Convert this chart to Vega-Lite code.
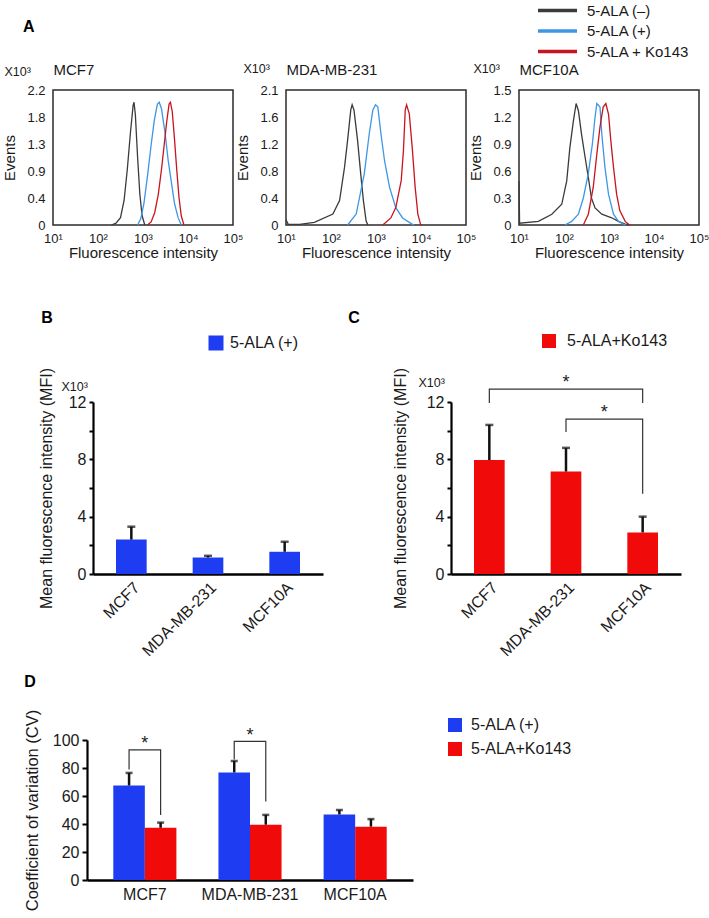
{
"$schema": "https://vega.github.io/schema/vega-lite/v6.json",
"background": "white",
"padding": {"left": 0, "top": 0, "right": 0, "bottom": 0},
"datasets": {
"hist": [
{"c":"MCF7","s":"5-ALA (–)","x":200,"y":0},{"c":"MCF7","s":"5-ALA (–)","x":251,"y":0.03},{"c":"MCF7","s":"5-ALA (–)","x":316,"y":0.12},{"c":"MCF7","s":"5-ALA (–)","x":380,"y":0.4},{"c":"MCF7","s":"5-ALA (–)","x":447,"y":0.9},{"c":"MCF7","s":"5-ALA (–)","x":525,"y":1.5},{"c":"MCF7","s":"5-ALA (–)","x":603,"y":1.95},{"c":"MCF7","s":"5-ALA (–)","x":631,"y":2.0},{"c":"MCF7","s":"5-ALA (–)","x":676,"y":1.8},{"c":"MCF7","s":"5-ALA (–)","x":759,"y":1.1},{"c":"MCF7","s":"5-ALA (–)","x":851,"y":0.5},{"c":"MCF7","s":"5-ALA (–)","x":955,"y":0.15},{"c":"MCF7","s":"5-ALA (–)","x":1096,"y":0},
{"c":"MCF7","s":"5-ALA (+)","x":759,"y":0},{"c":"MCF7","s":"5-ALA (+)","x":891,"y":0.1},{"c":"MCF7","s":"5-ALA (+)","x":1047,"y":0.35},{"c":"MCF7","s":"5-ALA (+)","x":1259,"y":0.8},{"c":"MCF7","s":"5-ALA (+)","x":1514,"y":1.3},{"c":"MCF7","s":"5-ALA (+)","x":1778,"y":1.7},{"c":"MCF7","s":"5-ALA (+)","x":2089,"y":1.97},{"c":"MCF7","s":"5-ALA (+)","x":2291,"y":2.0},{"c":"MCF7","s":"5-ALA (+)","x":2570,"y":1.9},{"c":"MCF7","s":"5-ALA (+)","x":3090,"y":1.5},{"c":"MCF7","s":"5-ALA (+)","x":3631,"y":1.05},{"c":"MCF7","s":"5-ALA (+)","x":4266,"y":0.7},{"c":"MCF7","s":"5-ALA (+)","x":5012,"y":0.35},{"c":"MCF7","s":"5-ALA (+)","x":6026,"y":0.12},{"c":"MCF7","s":"5-ALA (+)","x":7079,"y":0},
{"c":"MCF7","s":"5-ALA + Ko143","x":1259,"y":0},{"c":"MCF7","s":"5-ALA + Ko143","x":1514,"y":0.05},{"c":"MCF7","s":"5-ALA + Ko143","x":1820,"y":0.2},{"c":"MCF7","s":"5-ALA + Ko143","x":2188,"y":0.5},{"c":"MCF7","s":"5-ALA + Ko143","x":2570,"y":0.9},{"c":"MCF7","s":"5-ALA + Ko143","x":2951,"y":1.3},{"c":"MCF7","s":"5-ALA + Ko143","x":3388,"y":1.7},{"c":"MCF7","s":"5-ALA + Ko143","x":3802,"y":1.97},{"c":"MCF7","s":"5-ALA + Ko143","x":4074,"y":2.0},{"c":"MCF7","s":"5-ALA + Ko143","x":4467,"y":1.85},{"c":"MCF7","s":"5-ALA + Ko143","x":5012,"y":1.4},{"c":"MCF7","s":"5-ALA + Ko143","x":5623,"y":0.9},{"c":"MCF7","s":"5-ALA + Ko143","x":6310,"y":0.45},{"c":"MCF7","s":"5-ALA + Ko143","x":7079,"y":0.15},{"c":"MCF7","s":"5-ALA + Ko143","x":8128,"y":0},
{"c":"MDA","s":"5-ALA (–)","x":10,"y":0.08},{"c":"MDA","s":"5-ALA (–)","x":11.2,"y":0.01},{"c":"MDA","s":"5-ALA (–)","x":20,"y":0.01},{"c":"MDA","s":"5-ALA (–)","x":42.7,"y":0.04},{"c":"MDA","s":"5-ALA (–)","x":110,"y":0.17},{"c":"MDA","s":"5-ALA (–)","x":155,"y":0.38},{"c":"MDA","s":"5-ALA (–)","x":200,"y":0.9},{"c":"MDA","s":"5-ALA (–)","x":234,"y":1.32},{"c":"MDA","s":"5-ALA (–)","x":275,"y":1.79},{"c":"MDA","s":"5-ALA (–)","x":295,"y":1.87},{"c":"MDA","s":"5-ALA (–)","x":324,"y":1.79},{"c":"MDA","s":"5-ALA (–)","x":389,"y":1.32},{"c":"MDA","s":"5-ALA (–)","x":457,"y":0.8},{"c":"MDA","s":"5-ALA (–)","x":525,"y":0.38},{"c":"MDA","s":"5-ALA (–)","x":603,"y":0.06},{"c":"MDA","s":"5-ALA (–)","x":661,"y":0},
{"c":"MDA","s":"5-ALA (+)","x":234,"y":0},{"c":"MDA","s":"5-ALA (+)","x":363,"y":0.17},{"c":"MDA","s":"5-ALA (+)","x":550,"y":0.8},{"c":"MDA","s":"5-ALA (+)","x":708,"y":1.42},{"c":"MDA","s":"5-ALA (+)","x":851,"y":1.79},{"c":"MDA","s":"5-ALA (+)","x":977,"y":1.87},{"c":"MDA","s":"5-ALA (+)","x":1096,"y":1.84},{"c":"MDA","s":"5-ALA (+)","x":1288,"y":1.42},{"c":"MDA","s":"5-ALA (+)","x":1549,"y":1.0},{"c":"MDA","s":"5-ALA (+)","x":1995,"y":0.59},{"c":"MDA","s":"5-ALA (+)","x":2754,"y":0.27},{"c":"MDA","s":"5-ALA (+)","x":3890,"y":0.11},{"c":"MDA","s":"5-ALA (+)","x":6457,"y":0.01},{"c":"MDA","s":"5-ALA (+)","x":7000,"y":0},
{"c":"MDA","s":"5-ALA + Ko143","x":1413,"y":0},{"c":"MDA","s":"5-ALA + Ko143","x":2138,"y":0.11},{"c":"MDA","s":"5-ALA + Ko143","x":2754,"y":0.27},{"c":"MDA","s":"5-ALA + Ko143","x":3631,"y":0.69},{"c":"MDA","s":"5-ALA + Ko143","x":4074,"y":1.16},{"c":"MDA","s":"5-ALA + Ko143","x":4467,"y":1.79},{"c":"MDA","s":"5-ALA + Ko143","x":4786,"y":1.87},{"c":"MDA","s":"5-ALA + Ko143","x":5495,"y":1.73},{"c":"MDA","s":"5-ALA + Ko143","x":6457,"y":1.16},{"c":"MDA","s":"5-ALA + Ko143","x":7413,"y":0.59},{"c":"MDA","s":"5-ALA + Ko143","x":8511,"y":0.17},{"c":"MDA","s":"5-ALA + Ko143","x":9772,"y":0.01},{"c":"MDA","s":"5-ALA + Ko143","x":10500,"y":0},
{"c":"MCF10A","s":"5-ALA (–)","x":10,"y":0.49},{"c":"MCF10A","s":"5-ALA (–)","x":10.3,"y":0.02},{"c":"MCF10A","s":"5-ALA (–)","x":26.9,"y":0.04},{"c":"MCF10A","s":"5-ALA (–)","x":53.7,"y":0.12},{"c":"MCF10A","s":"5-ALA (–)","x":89.1,"y":0.23},{"c":"MCF10A","s":"5-ALA (–)","x":115,"y":0.49},{"c":"MCF10A","s":"5-ALA (–)","x":135,"y":0.86},{"c":"MCF10A","s":"5-ALA (–)","x":162,"y":1.16},{"c":"MCF10A","s":"5-ALA (–)","x":186,"y":1.35},{"c":"MCF10A","s":"5-ALA (–)","x":209,"y":1.27},{"c":"MCF10A","s":"5-ALA (–)","x":245,"y":1.01},{"c":"MCF10A","s":"5-ALA (–)","x":295,"y":0.75},{"c":"MCF10A","s":"5-ALA (–)","x":347,"y":0.53},{"c":"MCF10A","s":"5-ALA (–)","x":407,"y":0.3},{"c":"MCF10A","s":"5-ALA (–)","x":490,"y":0.19},{"c":"MCF10A","s":"5-ALA (–)","x":692,"y":0.12},{"c":"MCF10A","s":"5-ALA (–)","x":1148,"y":0.08},{"c":"MCF10A","s":"5-ALA (–)","x":1622,"y":0.04},{"c":"MCF10A","s":"5-ALA (–)","x":2291,"y":0.01},{"c":"MCF10A","s":"5-ALA (–)","x":2800,"y":0},
{"c":"MCF10A","s":"5-ALA (+)","x":105,"y":0},{"c":"MCF10A","s":"5-ALA (+)","x":148,"y":0.04},{"c":"MCF10A","s":"5-ALA (+)","x":209,"y":0.12},{"c":"MCF10A","s":"5-ALA (+)","x":269,"y":0.3},{"c":"MCF10A","s":"5-ALA (+)","x":347,"y":0.57},{"c":"MCF10A","s":"5-ALA (+)","x":427,"y":0.9},{"c":"MCF10A","s":"5-ALA (+)","x":490,"y":1.2},{"c":"MCF10A","s":"5-ALA (+)","x":537,"y":1.35},{"c":"MCF10A","s":"5-ALA (+)","x":631,"y":1.31},{"c":"MCF10A","s":"5-ALA (+)","x":692,"y":1.01},{"c":"MCF10A","s":"5-ALA (+)","x":813,"y":0.64},{"c":"MCF10A","s":"5-ALA (+)","x":977,"y":0.34},{"c":"MCF10A","s":"5-ALA (+)","x":1259,"y":0.12},{"c":"MCF10A","s":"5-ALA (+)","x":1622,"y":0.04},{"c":"MCF10A","s":"5-ALA (+)","x":2089,"y":0.01},{"c":"MCF10A","s":"5-ALA (+)","x":2400,"y":0},
{"c":"MCF10A","s":"5-ALA + Ko143","x":269,"y":0},{"c":"MCF10A","s":"5-ALA + Ko143","x":347,"y":0.12},{"c":"MCF10A","s":"5-ALA + Ko143","x":447,"y":0.42},{"c":"MCF10A","s":"5-ALA + Ko143","x":537,"y":0.79},{"c":"MCF10A","s":"5-ALA + Ko143","x":631,"y":1.09},{"c":"MCF10A","s":"5-ALA + Ko143","x":741,"y":1.31},{"c":"MCF10A","s":"5-ALA + Ko143","x":851,"y":1.35},{"c":"MCF10A","s":"5-ALA + Ko143","x":977,"y":1.23},{"c":"MCF10A","s":"5-ALA + Ko143","x":1096,"y":0.94},{"c":"MCF10A","s":"5-ALA + Ko143","x":1259,"y":0.64},{"c":"MCF10A","s":"5-ALA + Ko143","x":1479,"y":0.34},{"c":"MCF10A","s":"5-ALA + Ko143","x":1738,"y":0.16},{"c":"MCF10A","s":"5-ALA + Ko143","x":2291,"y":0.04},{"c":"MCF10A","s":"5-ALA + Ko143","x":2692,"y":0.01},{"c":"MCF10A","s":"5-ALA + Ko143","x":3000,"y":0}
]
},
"vconcat": [
{
"hconcat": [
{
"title": {"text": "A", "anchor": "start", "frame": "bounds", "dx": 22, "offset": 27, "fontSize": 16},
"width": 180, "height": 135,
"view": {"stroke": "#2b2b2b", "strokeWidth": 1.5},
"data": {"name": "hist"},
"transform": [{"filter": "datum.c === 'MCF7'"}],
"layer": [
{"mark": {"type": "line", "strokeWidth": 1.3},
"encoding": {
"x": {"field": "x", "type": "quantitative", "scale": {"type": "log", "domain": [10, 100000]}, "axis": {"title": "Fluorescence intensity", "values": [10, 100, 1000, 10000, 100000], "labelExpr": "'10' + ['⁰','¹','²','³','⁴','⁵'][round(log(datum.value)/LN10)]", "ticks": false, "domain": false, "labelFontSize": 13, "titleFontSize": 15, "labelPadding": 7, "titlePadding": 0, "labelFlush": false}},
"y": {"field": "y", "type": "quantitative", "scale": {"domain": [0, 2.2], "nice": false}, "axis": {"title": "Events", "values": [0, 0.44, 0.88, 1.32, 1.76, 2.2], "labelExpr": "['0','0.4','0.9','1.3','1.8','2.2'][round(datum.value/0.44)]", "ticks": false, "domain": false, "labelFontSize": 13, "titleFontSize": 15, "labelPadding": 8, "titlePadding": 9}},
"color": {"field": "s", "type": "nominal", "scale": {"domain": ["5-ALA (–)", "5-ALA (+)", "5-ALA + Ko143"], "range": ["#3b3b3b", "#3d96e6", "#c8141e"]}, "legend": null}
}},
{"mark": {"type": "line", "opacity": 0},
"encoding": {
"x": {"field": "x", "type": "quantitative", "axis": {"orient": "top", "title": "MCF7", "labels": false, "ticks": false, "domain": false, "titleAnchor": "start", "titleAlign": "left", "titleX": 0, "titleY": -16, "titleBaseline": "alphabetic", "titleFontSize": 15}},
"y": {"field": "y", "type": "quantitative", "axis": {"orient": "left", "title": "X10³", "labels": false, "ticks": false, "domain": false, "titleAngle": 0, "titleX": -49, "titleY": -15, "titleAlign": "left", "titleBaseline": "alphabetic", "titleFontSize": 12.5}},
"detail": {"field": "s"}
}},
{"mark": {"type": "line", "opacity": 0},
"encoding": {
"x": {"field": "x", "type": "quantitative", "axis": null},
"y": {"field": "y", "type": "quantitative", "axis": {"orient": "left", "title": ".", "titleOpacity": 0, "labels": false, "ticks": false, "domain": false, "titleAngle": 0, "titleX": -52, "titleY": 20, "titleAlign": "left", "titleFontSize": 10}},
"detail": {"field": "s"}
}}
],
"resolve": {"axis": {"x": "independent", "y": "independent"}}
},
{
"width": 180, "height": 135,
"view": {"stroke": "#2b2b2b", "strokeWidth": 1.5},
"data": {"name": "hist"},
"transform": [{"filter": "datum.c === 'MDA'"}],
"layer": [
{"mark": {"type": "line", "strokeWidth": 1.3},
"encoding": {
"x": {"field": "x", "type": "quantitative", "scale": {"type": "log", "domain": [10, 100000]}, "axis": {"title": "Fluorescence intensity", "values": [10, 100, 1000, 10000, 100000], "labelExpr": "'10' + ['⁰','¹','²','³','⁴','⁵'][round(log(datum.value)/LN10)]", "ticks": false, "domain": false, "labelFontSize": 13, "titleFontSize": 15, "labelPadding": 7, "titlePadding": 0, "labelFlush": false}},
"y": {"field": "y", "type": "quantitative", "scale": {"domain": [0, 2.1], "nice": false}, "axis": {"title": "Events", "values": [0, 0.42, 0.84, 1.26, 1.68, 2.1], "labelExpr": "['0','0.4','0.8','1.2','1.6','2.1'][round(datum.value/0.42)]", "ticks": false, "domain": false, "labelFontSize": 13, "titleFontSize": 15, "labelPadding": 8, "titlePadding": 9}},
"color": {"field": "s", "type": "nominal", "scale": {"domain": ["5-ALA (–)", "5-ALA (+)", "5-ALA + Ko143"], "range": ["#3b3b3b", "#3d96e6", "#c8141e"]}, "legend": null}
}},
{"mark": {"type": "line", "opacity": 0},
"encoding": {
"x": {"field": "x", "type": "quantitative", "axis": {"orient": "top", "title": "MDA-MB-231", "labels": false, "ticks": false, "domain": false, "titleAnchor": "start", "titleAlign": "left", "titleX": 0, "titleY": -16, "titleBaseline": "alphabetic", "titleFontSize": 15}},
"y": {"field": "y", "type": "quantitative", "axis": {"orient": "left", "title": "X10³", "labels": false, "ticks": false, "domain": false, "titleAngle": 0, "titleX": -43, "titleY": -18, "titleAlign": "left", "titleBaseline": "alphabetic", "titleFontSize": 12.5}},
"detail": {"field": "s"}
}}
],
"resolve": {"axis": {"x": "independent", "y": "independent"}}
},
{
"width": 180, "height": 135,
"view": {"stroke": "#2b2b2b", "strokeWidth": 1.5},
"data": {"name": "hist"},
"transform": [{"filter": "datum.c === 'MCF10A'"}],
"layer": [
{"mark": {"type": "line", "strokeWidth": 1.3},
"encoding": {
"x": {"field": "x", "type": "quantitative", "scale": {"type": "log", "domain": [10, 100000]}, "axis": {"title": "Fluorescence intensity", "values": [10, 100, 1000, 10000, 100000], "labelExpr": "'10' + ['⁰','¹','²','³','⁴','⁵'][round(log(datum.value)/LN10)]", "ticks": false, "domain": false, "labelFontSize": 13, "titleFontSize": 15, "labelPadding": 7, "titlePadding": 0, "labelFlush": false}},
"y": {"field": "y", "type": "quantitative", "scale": {"domain": [0, 1.5], "nice": false}, "axis": {"title": "Events", "values": [0, 0.3, 0.6, 0.9, 1.2, 1.5], "labelExpr": "['0','0.3','0.6','0.9','1.2','1.5'][round(datum.value/0.3)]", "ticks": false, "domain": false, "labelFontSize": 13, "titleFontSize": 15, "labelPadding": 8, "titlePadding": 9}},
"color": {"field": "s", "type": "nominal", "scale": {"domain": ["5-ALA (–)", "5-ALA (+)", "5-ALA + Ko143"], "range": ["#3b3b3b", "#3d96e6", "#c8141e"]}, "legend": {"orient": "none", "legendX": 29, "legendY": -89, "title": null, "symbolType": "M-2.6,0H2.6", "symbolSize": 225, "symbolStrokeWidth": 3.5, "labelFontSize": 15, "labelOffset": 20, "rowPadding": 2.5}}
}},
{"mark": {"type": "line", "opacity": 0},
"encoding": {
"x": {"field": "x", "type": "quantitative", "axis": {"orient": "top", "title": "MCF10A", "labels": false, "ticks": false, "domain": false, "titleAnchor": "start", "titleAlign": "left", "titleX": 0, "titleY": -16, "titleBaseline": "alphabetic", "titleFontSize": 15}},
"y": {"field": "y", "type": "quantitative", "axis": {"orient": "left", "title": "X10³", "labels": false, "ticks": false, "domain": false, "titleAngle": 0, "titleX": -46, "titleY": -18, "titleAlign": "left", "titleBaseline": "alphabetic", "titleFontSize": 12.5}},
"detail": {"field": "s"}
}}
],
"resolve": {"axis": {"x": "independent", "y": "independent"}}
}
],
"spacing": 53,
"bounds": "flush",
"resolve": {"scale": {"color": "independent"}, "legend": {"color": "independent"}}
},
{
"vconcat": [
{
"hconcat": [
{"width": 20, "height": 1, "data": {"values": [{"a": 0}]}, "mark": {"type": "point", "opacity": 0}, "encoding": {}},
{
"hconcat": [
{
"title": {"text": "B", "anchor": "start", "frame": "bounds", "dx": 3, "offset": 9, "fontSize": 16},
"width": 230, "height": 172,
"data": {"values": [
{"cell": "MCF7", "g": "5-ALA (+)", "v": 2.4, "hi": 3.3},
{"cell": "MDA-MB-231", "g": "5-ALA (+)", "v": 1.15, "hi": 1.27},
{"cell": "MCF10A", "g": "5-ALA (+)", "v": 1.55, "hi": 2.25}
]},
"layer": [
{"mark": {"type": "bar"},
"encoding": {
"x": {"field": "cell", "type": "nominal", "sort": null, "scale": {"paddingInner": 0.6, "paddingOuter": 0.3}, "axis": {"title": null, "labelAngle": -45, "labelAlign": "right", "labelBaseline": "top", "ticks": false, "domainWidth": 2.5, "labelFontSize": 16, "labelPadding": 5}},
"y": {"field": "v", "type": "quantitative", "scale": {"domain": [0, 12], "nice": false}, "axis": {"title": "Mean fluorescence intensity (MFI)", "values": [0, 2, 4, 6, 8, 10, 12], "labelExpr": "datum.value % 4 === 0 ? datum.label : ''", "labelOverlap": false, "tickSize": 4, "tickWidth": 2, "domainWidth": 2.2, "labelFontSize": 16, "titleFontSize": 16, "labelPadding": 3, "titlePadding": 14}},
"color": {"field": "g", "type": "nominal", "scale": {"range": ["#1e3cf2"]}, "legend": {"orient": "none", "legendX": 115, "legendY": -67, "title": null, "symbolType": "square", "symbolSize": 225, "symbolStrokeWidth": 0, "labelFontSize": 16, "labelOffset": 6}}
}},
{"mark": {"type": "rule", "strokeWidth": 2.5, "color": "#111"},
"encoding": {"x": {"field": "cell", "type": "nominal", "sort": null}, "y": {"field": "v", "type": "quantitative", "axis": null}, "y2": {"field": "hi"}}},
{"mark": {"type": "tick", "thickness": 2.5, "size": 8, "color": "#111"},
"encoding": {"x": {"field": "cell", "type": "nominal", "sort": null}, "y": {"field": "hi", "type": "quantitative", "axis": null}}},
{"mark": {"type": "point", "opacity": 0},
"encoding": {"x": {"field": "cell", "type": "nominal", "sort": null}, "y": {"field": "v", "type": "quantitative", "axis": {"orient": "left", "title": "X10³", "labels": false, "ticks": false, "domain": false, "titleAngle": 0, "titleX": -32, "titleY": -12, "titleAlign": "left", "titleBaseline": "alphabetic", "titleFontSize": 12.5}}}}
],
"resolve": {"axis": {"y": "independent"}}
},
{
"title": {"text": "C", "anchor": "start", "frame": "bounds", "dx": -44, "offset": 7, "fontSize": 16},
"width": 230, "height": 172,
"data": {"values": [
{"cell": "MCF7", "g": "5-ALA+Ko143", "v": 7.95, "hi": 10.4},
{"cell": "MDA-MB-231", "g": "5-ALA+Ko143", "v": 7.15, "hi": 8.8},
{"cell": "MCF10A", "g": "5-ALA+Ko143", "v": 2.9, "hi": 4.0}
]},
"layer": [
{"mark": {"type": "bar"},
"encoding": {
"x": {"field": "cell", "type": "nominal", "sort": null, "scale": {"paddingInner": 0.6, "paddingOuter": 0.3}, "axis": {"title": null, "labelAngle": -45, "labelAlign": "right", "labelBaseline": "top", "ticks": false, "domainWidth": 2.5, "labelFontSize": 16, "labelPadding": 5}},
"y": {"field": "v", "type": "quantitative", "scale": {"domain": [0, 12], "nice": false}, "axis": {"title": "Mean fluorescence intensity (MFI)", "values": [0, 2, 4, 6, 8, 10, 12], "labelExpr": "datum.value % 4 === 0 ? datum.label : ''", "labelOverlap": false, "tickSize": 4, "tickWidth": 2, "domainWidth": 2.2, "labelFontSize": 16, "titleFontSize": 16, "labelPadding": 3, "titlePadding": 18}},
"color": {"field": "g", "type": "nominal", "scale": {"range": ["#f00a0a"]}, "legend": {"orient": "none", "legendX": 90, "legendY": -69, "title": null, "symbolType": "square", "symbolSize": 196, "symbolStrokeWidth": 0, "labelFontSize": 16, "labelOffset": 10}}
}},
{"mark": {"type": "rule", "strokeWidth": 2.5, "color": "#111"},
"encoding": {"x": {"field": "cell", "type": "nominal", "sort": null}, "y": {"field": "v", "type": "quantitative", "axis": null}, "y2": {"field": "hi"}}},
{"mark": {"type": "tick", "thickness": 2.5, "size": 8, "color": "#111"},
"encoding": {"x": {"field": "cell", "type": "nominal", "sort": null}, "y": {"field": "hi", "type": "quantitative", "axis": null}}},
{"data": {"values": [
{"id": 1, "cell": "MCF7", "y": 11.93, "o": 1}, {"id": 1, "cell": "MCF7", "y": 12.9, "o": 2}, {"id": 1, "cell": "MCF10A", "y": 12.9, "o": 3}, {"id": 1, "cell": "MCF10A", "y": 11.93, "o": 4},
{"id": 2, "cell": "MDA-MB-231", "y": 9.9, "o": 1}, {"id": 2, "cell": "MDA-MB-231", "y": 10.8, "o": 2}, {"id": 2, "cell": "MCF10A", "y": 10.8, "o": 3}, {"id": 2, "cell": "MCF10A", "y": 5.6, "o": 4}
]},
"mark": {"type": "line", "strokeWidth": 1.2, "color": "#333"},
"encoding": {"x": {"field": "cell", "type": "nominal", "sort": null}, "y": {"field": "y", "type": "quantitative", "axis": null}, "detail": {"field": "id"}, "order": {"field": "o"}}},
{"data": {"values": [{"cell": "MDA-MB-231", "y": 13.0, "t": "*"}]},
"mark": {"type": "text", "fontSize": 18, "baseline": "alphabetic", "color": "#222"},
"encoding": {"x": {"field": "cell", "type": "nominal", "sort": null}, "y": {"field": "y", "type": "quantitative", "axis": null}, "text": {"field": "t"}}},
{"data": {"values": [{"cell": "MDA-MB-231", "y": 10.9, "t": "*"}]},
"mark": {"type": "text", "fontSize": 18, "baseline": "alphabetic", "color": "#222"},
"encoding": {"x": {"field": "cell", "type": "nominal", "sort": null, "bandPosition": 1.75}, "y": {"field": "y", "type": "quantitative", "axis": null}, "text": {"field": "t"}}},
{"mark": {"type": "point", "opacity": 0},
"encoding": {"x": {"field": "cell", "type": "nominal", "sort": null}, "y": {"field": "v", "type": "quantitative", "axis": {"orient": "left", "title": "X10³", "labels": false, "ticks": false, "domain": false, "titleAngle": 0, "titleX": -33, "titleY": -16, "titleAlign": "left", "titleBaseline": "alphabetic", "titleFontSize": 12.5}}}}
],
"resolve": {"axis": {"y": "independent"}}
}
],
"spacing": 128,
"bounds": "flush",
"resolve": {"scale": {"color": "independent"}, "legend": {"color": "independent"}}
}
],
"spacing": 20,
"bounds": "flush",
"resolve": {"scale": {"color": "independent"}, "legend": {"color": "independent"}}
},
{
"hconcat": [
{"width": 14, "height": 1, "data": {"values": [{"a": 0}]}, "mark": {"type": "point", "opacity": 0}, "encoding": {}},
{
"title": {"text": "D", "anchor": "start", "frame": "bounds", "dx": 0, "offset": 19, "fontSize": 16},
"width": 326, "height": 140,
"data": {"values": [
{"cell": "MCF7", "g": "5-ALA (+)", "v": 67.5, "hi": 76.5},
{"cell": "MCF7", "g": "5-ALA+Ko143", "v": 37.3, "hi": 41},
{"cell": "MDA-MB-231", "g": "5-ALA (+)", "v": 76.8, "hi": 85},
{"cell": "MDA-MB-231", "g": "5-ALA+Ko143", "v": 39.5, "hi": 46.5},
{"cell": "MCF10A", "g": "5-ALA (+)", "v": 46.8, "hi": 50},
{"cell": "MCF10A", "g": "5-ALA+Ko143", "v": 38.1, "hi": 43.5}
]},
"layer": [
{"mark": {"type": "bar"},
"encoding": {
"x": {"field": "cell", "type": "nominal", "sort": null, "scale": {"paddingInner": 0.4, "paddingOuter": 0.25}, "axis": {"title": null, "labelAngle": 0, "ticks": false, "domainWidth": 2.5, "labelFontSize": 16, "labelPadding": 6}},
"xOffset": {"field": "g", "type": "nominal", "sort": null},
"y": {"field": "v", "type": "quantitative", "scale": {"domain": [0, 100], "nice": false}, "axis": {"title": "Coefficient of variation (CV)", "values": [0, 20, 40, 60, 80, 100], "labelOverlap": false, "tickSize": 5, "tickWidth": 2, "domainWidth": 2.2, "labelFontSize": 16, "titleFontSize": 16.5, "labelPadding": 3, "titlePadding": 12}},
"color": {"field": "g", "type": "nominal", "sort": null, "scale": {"range": ["#1e3cf2", "#f00a0a"]}, "legend": {"orient": "none", "legendX": 360, "legendY": -23, "title": null, "symbolType": "square", "symbolSize": 196, "symbolStrokeWidth": 0, "labelFontSize": 16, "labelOffset": 8, "rowPadding": 8}}
}},
{"mark": {"type": "rule", "strokeWidth": 2.5, "color": "#111"},
"encoding": {"x": {"field": "cell", "type": "nominal", "sort": null}, "xOffset": {"field": "g", "type": "nominal", "sort": null}, "y": {"field": "v", "type": "quantitative", "axis": null}, "y2": {"field": "hi"}}},
{"mark": {"type": "tick", "thickness": 2.5, "size": 7, "color": "#111"},
"encoding": {"x": {"field": "cell", "type": "nominal", "sort": null}, "xOffset": {"field": "g", "type": "nominal", "sort": null}, "y": {"field": "hi", "type": "quantitative", "axis": null}}},
{"data": {"values": [
{"id": 1, "cell": "MCF7", "g": "5-ALA (+)", "y": 79, "o": 1}, {"id": 1, "cell": "MCF7", "g": "5-ALA (+)", "y": 93, "o": 2}, {"id": 1, "cell": "MCF7", "g": "5-ALA+Ko143", "y": 93, "o": 3}, {"id": 1, "cell": "MCF7", "g": "5-ALA+Ko143", "y": 46.5, "o": 4},
{"id": 2, "cell": "MDA-MB-231", "g": "5-ALA (+)", "y": 86, "o": 1}, {"id": 2, "cell": "MDA-MB-231", "g": "5-ALA (+)", "y": 99, "o": 2}, {"id": 2, "cell": "MDA-MB-231", "g": "5-ALA+Ko143", "y": 99, "o": 3}, {"id": 2, "cell": "MDA-MB-231", "g": "5-ALA+Ko143", "y": 56, "o": 4}
]},
"mark": {"type": "line", "strokeWidth": 1.2, "color": "#333"},
"encoding": {"x": {"field": "cell", "type": "nominal", "sort": null}, "xOffset": {"field": "g", "type": "nominal", "sort": null}, "y": {"field": "y", "type": "quantitative", "axis": null}, "detail": {"field": "id"}, "order": {"field": "o"}}},
{"data": {"values": [{"cell": "MCF7", "y": 93.5, "t": "*"}, {"cell": "MDA-MB-231", "y": 99.5, "t": "*"}]},
"mark": {"type": "text", "fontSize": 18, "baseline": "alphabetic", "color": "#222"},
"encoding": {"x": {"field": "cell", "type": "nominal", "sort": null}, "y": {"field": "y", "type": "quantitative", "axis": null}, "text": {"field": "t"}}}
],
"resolve": {"axis": {"y": "independent"}}
}
],
"spacing": 20,
"bounds": "flush",
"resolve": {"scale": {"color": "independent"}, "legend": {"color": "independent"}}
}
],
"spacing": 15,
"resolve": {"scale": {"color": "independent"}, "legend": {"color": "independent"}}
}
],
"spacing": 49,
"resolve": {"scale": {"color": "independent"}, "legend": {"color": "independent"}},
"config": {
"font": "Liberation Sans",
"view": {"stroke": null},
"axis": {"grid": false, "labelColor": "#1a1a1a", "titleColor": "#1a1a1a", "titleFontWeight": "normal", "domainColor": "#000", "tickColor": "#000", "labelFont": "Liberation Sans", "titleFont": "Liberation Sans"},
"legend": {"labelFont": "Liberation Sans", "labelColor": "#1a1a1a"},
"title": {"font": "Liberation Sans", "fontWeight": "bold", "color": "#000"},
"text": {"font": "Liberation Sans"}
}
}
